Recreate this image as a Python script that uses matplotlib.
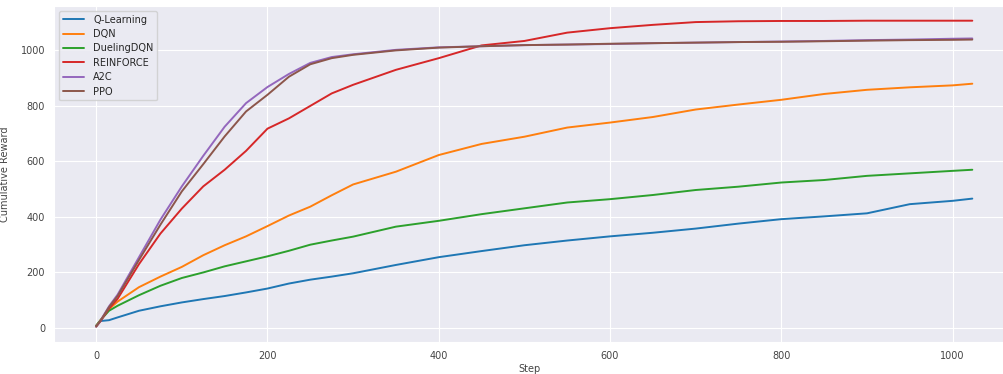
import matplotlib
matplotlib.use("Agg")
import matplotlib.pyplot as plt
import seaborn as sns

steps = [0, 5, 15, 25, 50, 75, 100, 125, 150, 175, 200, 225, 250, 275, 300,
         350, 400, 450, 500, 550, 600, 650, 700, 750, 800, 850, 900, 950,
         1000, 1023]

q_learning = [8, 25, 28, 38, 62, 78, 92, 104, 115, 128, 142, 160, 174, 185, 197,
              227, 255, 277, 298, 315, 330, 343, 358, 376, 392, 402, 413, 446,
              458, 466]
dqn = [8, 28, 68, 95, 147, 185, 220, 262, 298, 330, 367, 405, 437, 478, 517,
       563, 623, 663, 689, 722, 740, 760, 787, 805, 822, 843, 858, 867,
       874, 880]
dueling_dqn = [8, 28, 62, 80, 118, 152, 180, 200, 222, 240, 258, 278, 300, 315, 329,
               365, 386, 410, 431, 452, 464, 479, 497, 509, 524, 533, 548, 557,
               566, 570]
reinforce = [5, 24, 70, 105, 230, 340, 430, 510, 570, 638, 718, 755, 800, 845, 876,
             930, 972, 1018, 1034, 1064, 1080, 1092, 1102, 1105, 1106, 1106, 1107,
             1107, 1107, 1107]
a2c = [5, 26, 78, 120, 255, 390, 510, 620, 725, 810, 868, 915, 955, 976, 986,
       1002, 1011, 1015, 1019, 1021, 1023, 1026, 1028, 1030, 1032, 1034, 1037,
       1039, 1042, 1043]
ppo = [5, 26, 75, 115, 245, 372, 492, 590, 690, 780, 840, 905, 950, 972, 984,
       1000, 1010, 1015, 1019, 1021, 1024, 1026, 1028, 1030, 1031, 1033, 1035,
       1037, 1038, 1039]

series = {
    "Q-Learning": q_learning,
    "DQN": dqn,
    "DuelingDQN": dueling_dqn,
    "REINFORCE": reinforce,
    "A2C": a2c,
    "PPO": ppo,
}

sns.set_style("darkgrid")
fig = plt.figure(figsize=(10.04, 3.74), dpi=100)
ax = fig.add_axes([0.054, 0.086, 0.946, 0.898])

colors = plt.get_cmap("tab10").colors
for i, (name, vals) in enumerate(series.items()):
    ax.plot(steps, vals, color=colors[i], linewidth=1.4, label=name)

ax.set_xlim(-49, 1060)
ax.set_ylim(-50, 1160)
ax.set_xticks([0, 200, 400, 600, 800, 1000])
ax.set_yticks([0, 200, 400, 600, 800, 1000])
ax.tick_params(labelsize=7, colors="#444444", pad=3)
ax.set_xlabel("Step", fontsize=7, color="#444444", labelpad=2)
ax.set_ylabel("Cumulative Reward", fontsize=7, color="#444444", labelpad=8)
ax.legend(loc="upper left", fontsize=7, handlelength=2.2, handletextpad=0.9,
          labelspacing=0.45)

fig.savefig("out.png", dpi=100)
